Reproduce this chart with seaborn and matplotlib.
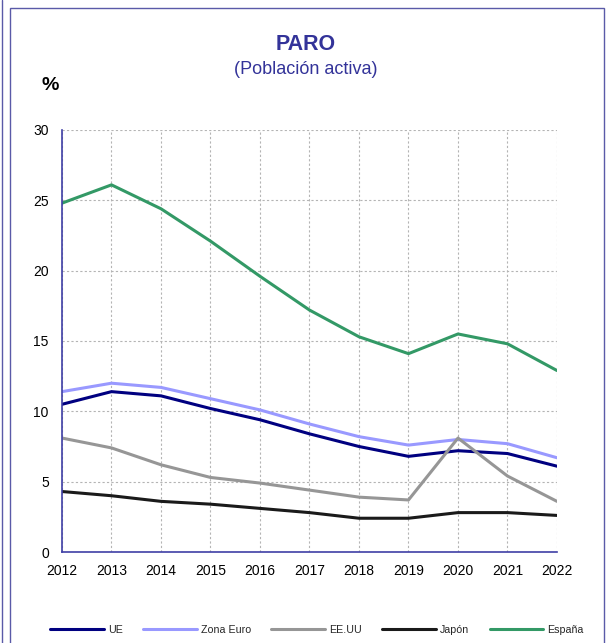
import pandas as pd
import numpy as np
import matplotlib
matplotlib.use("Agg")
import matplotlib.pyplot as plt
from matplotlib.lines import Line2D
import seaborn as sns

years = list(range(2012, 2023))
ue = [10.5, 11.4, 11.1, 10.2, 9.4, 8.4, 7.5, 6.8, 7.2, 7.0, 6.1]
zona_euro = [11.4, 12.0, 11.7, 10.9, 10.1, 9.1, 8.2, 7.6, 8.0, 7.7, 6.7]
eeuu = [8.1, 7.4, 6.2, 5.3, 4.9, 4.4, 3.9, 3.7, 8.1, 5.4, 3.6]
japon = [4.3, 4.0, 3.6, 3.4, 3.1, 2.8, 2.4, 2.4, 2.8, 2.8, 2.6]
espana = [24.8, 26.1, 24.4, 22.1, 19.6, 17.2, 15.3, 14.1, 15.5, 14.8, 12.9]

series = ["UE", "Zona Euro", "EE.UU", "Japón", "España"]
colors = ["#000080", "#9999ff", "#969696", "#1a1a1a", "#339966"]

df = pd.DataFrame({"UE": ue, "Zona Euro": zona_euro, "EE.UU": eeuu,
                   "Japón": japon, "España": espana}, index=years)
long = df.reset_index(names="year").melt(id_vars="year", var_name="serie", value_name="valor")

sns.set_style("white")
plt.rcParams["font.family"] = ["Liberation Sans", "DejaVu Sans"]

axis_col = "#3f3fa6"
title_col = "#333399"

fig = plt.figure(figsize=(6.06, 6.43), dpi=100)
ax = fig.add_axes([62 / 606, 1 - 552 / 643, (557 - 62) / 606, (552 - 130) / 643])

sns.lineplot(data=long, x="year", y="valor", hue="serie", hue_order=series,
             palette=colors, linewidth=2.2, ax=ax, legend=False)

ax.set_xlim(2012, 2022)
ax.set_ylim(0, 30)
ax.set_xticks(years)
ax.set_yticks(range(0, 31, 5))
ax.set_xlabel("")
ax.set_ylabel("")
ax.grid(True, color="#b4b4b4", linestyle=(0, (2, 2)), linewidth=0.8)
for s in ["top", "right"]:
    ax.spines[s].set_visible(False)
for s in ["left", "bottom"]:
    ax.spines[s].set_color(axis_col)
    ax.spines[s].set_linewidth(1.2)
ax.tick_params(axis="both", direction="out", length=4, width=1, color=axis_col,
               labelsize=10, labelcolor="black")
ax.tick_params(axis="y", pad=5.5)
ax.tick_params(axis="x", pad=4.5)

fig.text(306 / 606, 1 - 45 / 643, "PARO", ha="center", va="center",
         fontsize=15.5, fontweight="bold", color=title_col)
fig.text(306 / 606, 1 - 70 / 643, "(Población activa)", ha="center", va="center",
         fontsize=13, color=title_col)
fig.text(50.5 / 606, 1 - 85 / 643, "%", ha="center", va="center",
         fontsize=14, fontweight="bold", color="black")

handles = [Line2D([0], [0], color=c, linewidth=2.2) for c in colors]
fig.legend(handles, series, loc="center", bbox_to_anchor=(317 / 606, 1 - 630 / 643),
           ncol=5, frameon=False, fontsize=7.7, handlelength=5.0,
           handletextpad=0.4, columnspacing=1.9)

# marcos
fig.add_artist(plt.Rectangle((9.5 / 606, -0.05), (604 - 9.5) / 606, 1.05 - 7.5 / 643,
                             transform=fig.transFigure, fill=False,
                             edgecolor="#5a5aa8", linewidth=1.0))
fig.add_artist(Line2D([2 / 606, 2 / 606], [0, 1], transform=fig.transFigure,
                      color="#5a5aa8", linewidth=1.0))

fig.savefig("out.png", dpi=100)
